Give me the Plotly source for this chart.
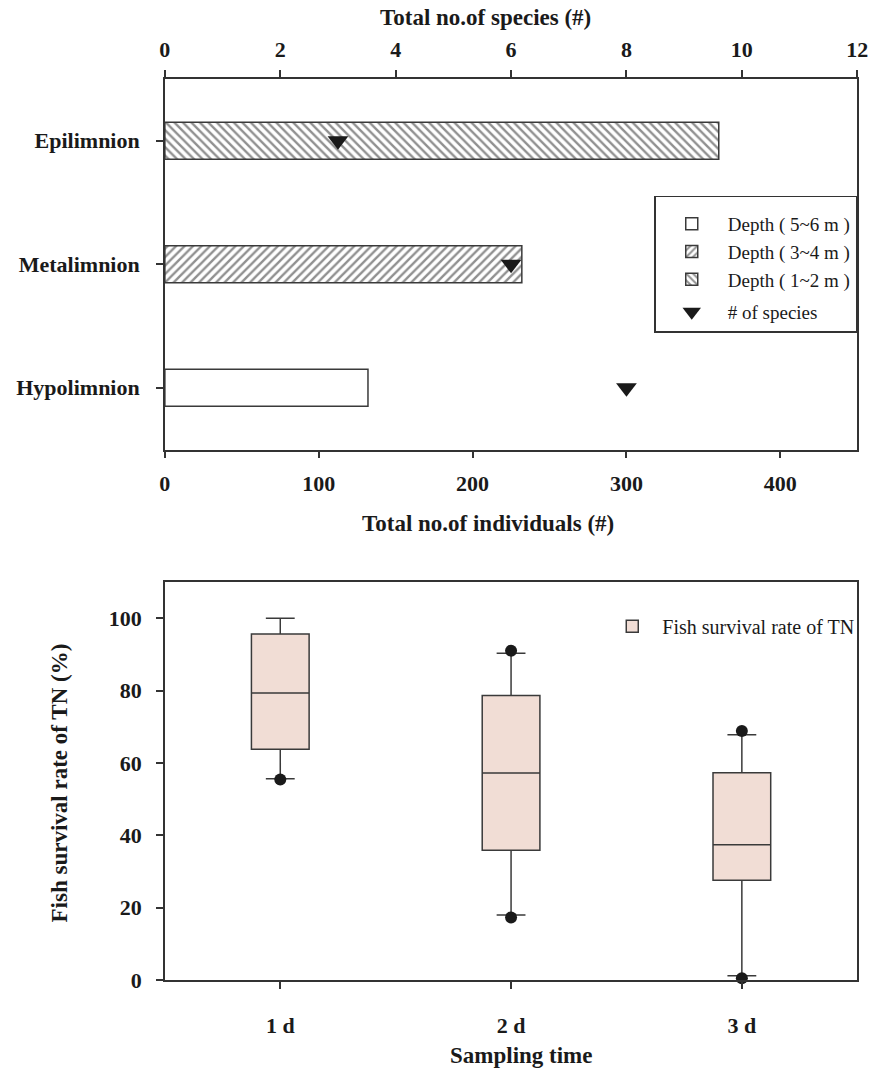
import plotly.graph_objects as go

# ---- Upper panel: catch per water layer ----
layers = ["Epilimnion", "Metalimnion", "Hypolimnion"]
individuals = [360, 232, 132]          # total no. of individuals
species = [3, 6, 8]                    # total no. of species
depth_names = ["Depth ( 1~2 m )", "Depth ( 3~4 m )", "Depth ( 5~6 m )"]
hatches = ["\\", "/", ""]

# ---- Lower panel: fish survival rate of TN ----
days = ["1 d", "2 d", "3 d"]
q1 = [63.8, 35.9, 27.6]
median = [79.3, 57.2, 37.4]
q3 = [95.6, 78.6, 57.3]
lower_fence = [55.6, 18.0, 1.2]
upper_fence = [100.0, 90.3, 67.8]
outlier_days = ["1 d", "2 d", "2 d", "3 d", "3 d"]
outlier_vals = [55.4, 91.0, 17.3, 68.8, 0.5]

W, H = 881, 1083
SERIF = "Liberation Serif"
INK = "#1a1a1a"
AX = "#333333"


def px(x):
    return x / W


def py(y):
    return 1 - y / H


fig = go.Figure()

# Bars, added in legend order (deepest first)
for i in [2, 1, 0]:
    fig.add_trace(go.Bar(
        y=[layers[i]], x=[individuals[i]], orientation="h", width=0.3,
        name=depth_names[i], legend="legend", legendgroup="depth",
        marker=dict(color="white",
                    line=dict(color="#3a3a3a", width=1.5),
                    pattern=dict(shape=hatches[i], size=6, solidity=0.4,
                                 fgcolor="#222222", bgcolor="white")),
        xaxis="x", yaxis="y",
    ))

fig.add_trace(go.Scatter(
    x=species, y=layers, mode="markers", name="# of species",
    legend="legend", legendgroup="species",
    marker=dict(symbol="triangle-down", size=18, color=INK),
    xaxis="x2", yaxis="y",
))

fig.add_trace(go.Box(
    x=days, q1=q1, median=median, q3=q3,
    lowerfence=lower_fence, upperfence=upper_fence,
    name="Fish survival rate of TN", legend="legend2",
    width=0.25, whiskerwidth=0.5, boxpoints=False,
    fillcolor="#F1DDD5", line=dict(color="#3a3a3a", width=1.5),
    xaxis="x3", yaxis="y3",
))

fig.add_trace(go.Scatter(
    x=outlier_days, y=outlier_vals, mode="markers", showlegend=False,
    marker=dict(size=12, color=INK), cliponaxis=False,
    xaxis="x3", yaxis="y3",
))

tickfont = dict(family=SERIF, size=22, color=INK, weight="bold")
common_axis = dict(showline=True, linecolor=AX, linewidth=1.5, ticks="outside",
                   ticklen=7, tickwidth=1.5, tickcolor=AX, showgrid=False,
                   zeroline=False, tickfont=tickfont)

top_dom = [py(455), py(80)]
bot_dom = [py(992), py(589)]
x_dom = [px(162), px(868)]

fig.update_layout(
    width=W, height=H,
    margin=dict(l=0, r=0, t=0, b=0),
    paper_bgcolor="white", plot_bgcolor="white",
    barmode="overlay",
    xaxis=dict(domain=x_dom, anchor="y", range=[0, 450], dtick=100,
               mirror=True, ticklabelstandoff=6, **common_axis),
    xaxis2=dict(overlaying="x", side="top", anchor="y", range=[0, 12], dtick=2,
                ticklabelstandoff=4, **common_axis),
    yaxis=dict(domain=top_dom, anchor="x", type="category",
               categoryorder="array", categoryarray=layers[::-1],
               range=[-0.5, 2.5], mirror=True, ticklabelstandoff=12,
               **common_axis),
    xaxis3=dict(domain=x_dom, anchor="y3", type="category",
                categoryorder="array", categoryarray=days, range=[-0.5, 2.5],
                mirror=True, ticklabelstandoff=18, **common_axis),
    yaxis3=dict(domain=bot_dom, anchor="x3", range=[0, 110],
                tickvals=[0, 20, 40, 60, 80, 100],
                mirror=True, ticklabelstandoff=10, **common_axis),
    legend=dict(x=px(868), y=py(198), xanchor="right", yanchor="top",
                bgcolor="white", bordercolor=AX, borderwidth=1.5,
                font=dict(family=SERIF, size=19, color=INK),
                title=dict(text=" ", font=dict(size=6)),
                itemwidth=62, tracegroupgap=5, traceorder="grouped"),
    legend2=dict(x=px(608), y=py(614), xanchor="left", yanchor="top",
                 bgcolor="rgba(0,0,0,0)", borderwidth=0, itemwidth=50,
                 font=dict(family=SERIF, size=20, color=INK)),
    showlegend=True,
)

title_font = dict(family=SERIF, size=23, color=INK, weight="bold")
annot = dict(xref="paper", yref="paper", showarrow=False, font=title_font,
             xanchor="center", yanchor="middle")
fig.add_annotation(text="Total no.of species (#)", x=px(489), y=py(18), **annot)
fig.add_annotation(text="Total no.of individuals (#)", x=px(491), y=py(530), **annot)
fig.add_annotation(text="Sampling time", x=px(525), y=py(1068), **annot)
fig.add_annotation(text="Fish survival rate of TN (%)", x=px(55), y=py(792),
                   textangle=-90, **annot)

fig.write_html("out.html")
